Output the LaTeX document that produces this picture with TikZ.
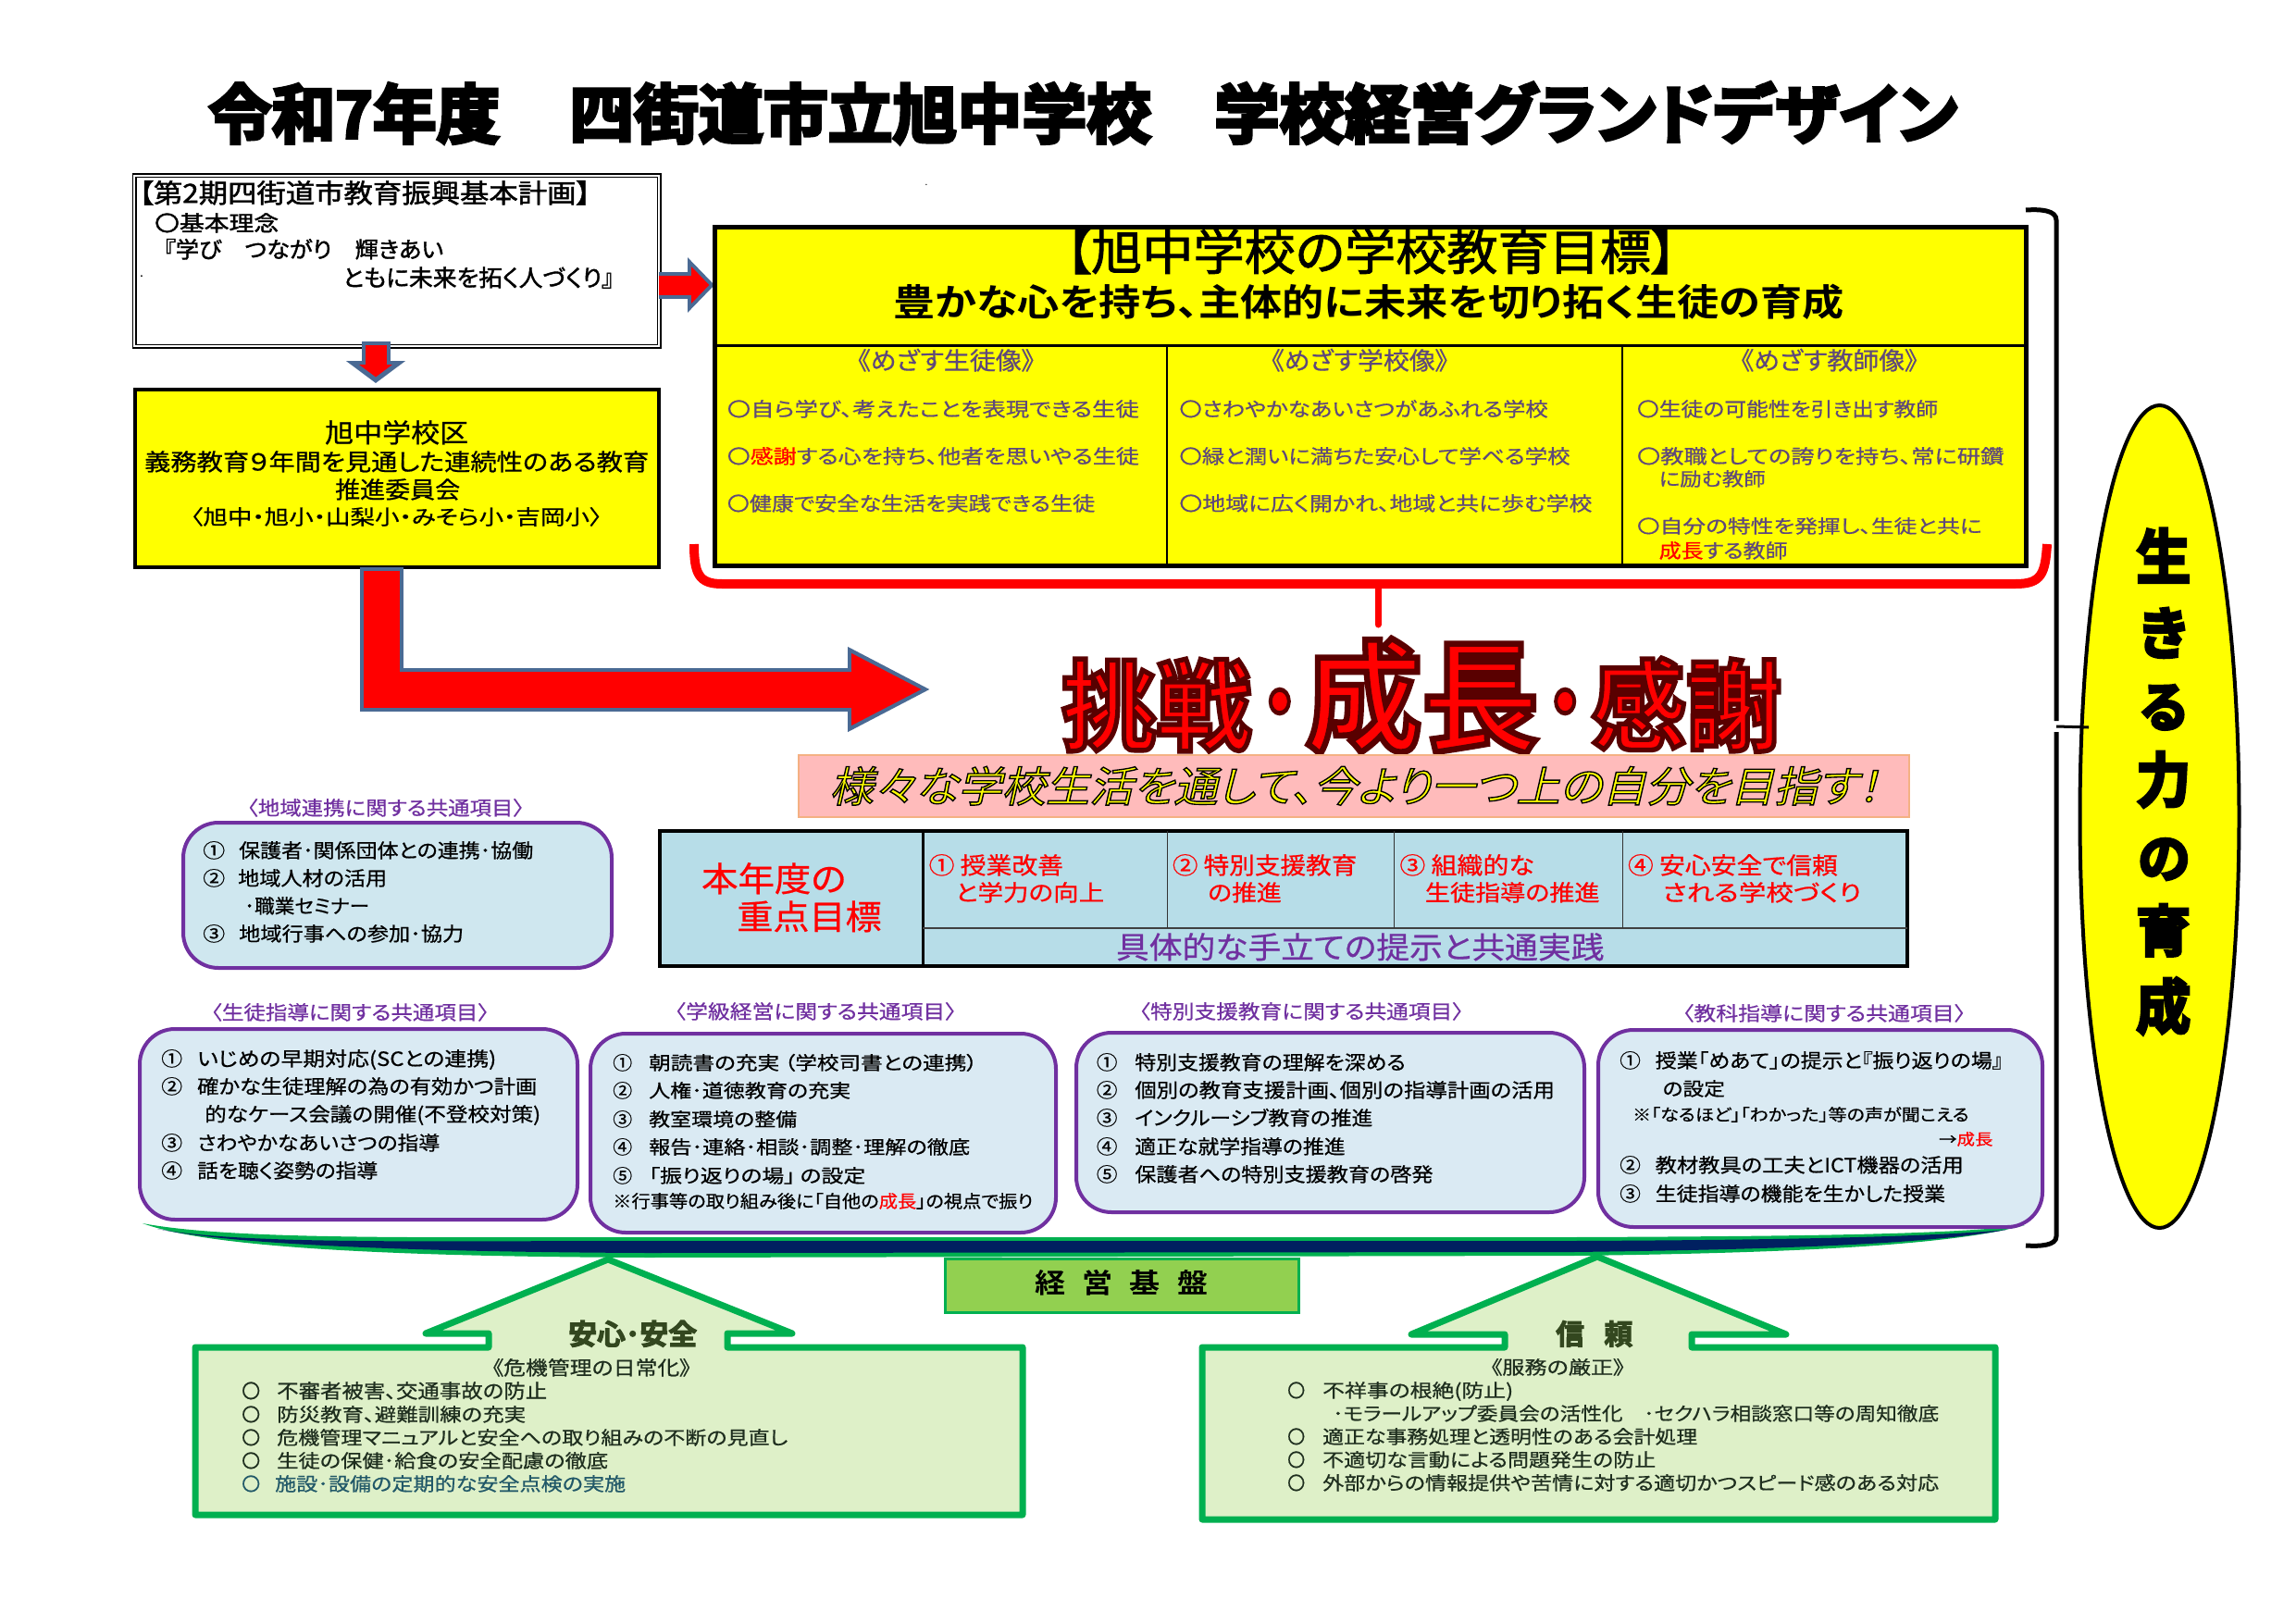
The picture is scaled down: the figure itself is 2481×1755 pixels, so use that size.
\documentclass[tikz,border=0pt]{standalone}
\usepackage{fontspec}
\usepackage{graphicx}
\usetikzlibrary{arrows.meta,shapes.geometric}
\setmainfont[RawFeature=+palt]{Noto Sans CJK JP}
\newfontfamily\rg[FakeBold=0.6,RawFeature=+palt]{Noto Sans CJK JP}
\newfontfamily\md[FakeBold=1.5,RawFeature=+palt]{Noto Sans CJK JP}
\newfontfamily\hv[UprightFont=* Bold,FakeBold=5,RawFeature=+palt]{Noto Sans CJK JP}
\newfontfamily\hx[UprightFont=* Bold,FakeBold=3.5,RawFeature=+palt]{Noto Sans CJK JP}
\newfontfamily\bd[UprightFont=* Bold,RawFeature=+palt]{Noto Sans CJK JP}
\newfontfamily\slanted[FakeSlant=0.22,FakeBold=3,RawFeature=+palt]{Noto Sans CJK JP}
\definecolor{yel}{HTML}{FFFF00}
\definecolor{arrowblue}{HTML}{4A6A94}
\definecolor{purp}{HTML}{7030A0}
\definecolor{mutedpurp}{HTML}{5F497A}
\definecolor{tablecyan}{HTML}{B7DDE8}
\definecolor{cyanA}{HTML}{CFE7EF}
\definecolor{cyanB}{HTML}{DAEAF3}
\definecolor{grn}{HTML}{00B050}
\definecolor{leaf}{HTML}{92D050}
\definecolor{pale}{HTML}{DEF0C8}
\definecolor{navy}{HTML}{002060}
\definecolor{pinkbg}{HTML}{FFBBBB}
\definecolor{pinkedge}{HTML}{F4B183}
\definecolor{ink}{HTML}{1E2E1E}
\definecolor{teal}{HTML}{215868}
\definecolor{dgreen}{HTML}{33471F}
\newcounter{tn}
\newsavebox\txbox
\newdimen\txw
\def\curf{\rg}
\def\ox{0}\def\sxf{1}
% \tx[colour]{left}{right}{ink top}{ink bottom}{text}
\newcommand\tx[6][black]{%
  \stepcounter{tn}%
  \pgfmathsetmacro\fsz{(#5-#4)/0.95}%
  \pgfmathsetmacro\by{#5-0.1*\fsz}%
  \pgfmathsetmacro\Lx{\ox+(#2-\ox)*\sxf}%
  \pgfmathsetmacro\Rx{\ox+(#3-\ox)*\sxf}%
  \sbox\txbox{\pgfinterruptpicture\color{#1}\fontsize{\fsz pt}{\fsz pt}\selectfont\curf #6\endpgfinterruptpicture}%
  \txw=\wd\txbox
  \pgfmathsetmacro\sx{(\Rx-\Lx)/\the\txw}%
  \node[anchor=base west,inner sep=0pt] (t\thetn) at (\Lx,\by) {\scalebox{\sx}[1]{\usebox\txbox}};%
}
\newcommand\darkedge{\special{pdf:code 0.35 0 0 RG}}
\newcommand\blackedge{\special{pdf:code 0 0 0 RG}}
\newcommand\rbox[6][]{%
  \pgfmathsetmacro\rw{#5-#3}\pgfmathsetmacro\rh{#6-#4}%
  \node[inner sep=0pt,outer sep=0pt,anchor=north west,minimum width=\rw pt,minimum height=\rh pt,#1] (#2) at (#3,#4) {};%
}
\tikzset{
  goalbox/.style={draw=black,fill=yel,line width=5pt},
  planbox/.style={draw=black,double=white,double distance=2pt,line width=1.5pt,fill=white},
  purplebox/.style={draw=purp,line width=4pt,rounded corners=38pt},
  fatouter/.style={line width=#1pt,color=arrowblue,line join=miter},
  fatinner/.style={line width=#1pt,color=red,line join=miter},
  cellrule/.style={draw=black!80,line width=1pt},
  house/.style={draw=grn,fill=pale,line width=7pt,line join=round},
}
\begin{document}
\begin{tikzpicture}[x=1pt,y=-1pt]
\useasboundingbox (0,0) rectangle (2481,1755);
% ---------- title
{\def\curf{\hv}
\tx{225}{540}{90}{156}{令和7年度}
\tx{615}{1244}{90}{156}{四街道市立旭中学校}
\tx{1312}{2115}{90}{156}{学校経営グランドデザイン}
}
% ---------- brace and banner behind boxes
\coordinate (bt) at (2189,227);
\coordinate (bb) at (2189,1346);
\coordinate (bm) at (2222,785);
\coordinate (btip) at (2257,786);
\draw[line width=5pt] (bt) .. controls (2205,226) and (2222,227) .. (2222,238) -- (2222,779);
\draw[line width=5pt] (2222,791) -- (2222,1336) .. controls (2222,1346) and (2205,1347) .. (bb);
% banner
\fill[grn] (154,1322) .. controls (250,1340) and (450,1337) .. (700,1337) -- (1700,1337) .. controls (1950,1336) and (2110,1334) .. (2188,1324) .. controls (2110,1345) and (1950,1354) .. (1700,1357) -- (700,1359) .. controls (450,1358) and (230,1350) .. (154,1322) -- cycle;
\fill[navy] (170,1328) .. controls (260,1345) and (450,1341) .. (700,1341) -- (1700,1341) .. controls (1950,1340) and (2090,1336) .. (2168,1329) .. controls (2090,1343) and (1950,1350) .. (1700,1353) -- (700,1354) .. controls (450,1353) and (250,1345) .. (170,1328) -- cycle;
% ---------- boxes top-left
\rbox[planbox]{plan}{145}{190}{712}{374}
\rbox[goalbox,line width=4pt]{council}{146}{421}{712}{613}
{\def\curf{\md}
\tx{150}{638}{195}{222}{【第2期四街道市教育振興基本計画】}
\tx{167}{301}{230}{252}{〇基本理念}
\tx{177}{479}{258}{281}{『学び　つながり　輝きあい}
\tx{370}{663}{288}{312}{ともに未来を拓く人づくり』}
}
\node[inner sep=0pt,font=\fontsize{14}{14}\selectfont] (dotA) at (153,299) {.};
\node[inner sep=0pt,font=\fontsize{10}{10}\selectfont] (dotB) at (1001,200) {.};
\tx{351}{506}{454}{481}{旭中学校区}
\tx{156}{701}{487}{511}{義務教育９年間を見通した連続性のある教育}
\tx{362}{497}{517}{541}{推進委員会}
\tx{206}{650}{548}{569}{〈旭中・旭小・山梨小・みそら小・吉岡小〉}
% ---------- block arrows
\coordinate (a1s) at (712,308);
\coordinate (a1e) at (772,308);
\draw[fatouter=29,-{Triangle[length=29pt,width=58pt]}] (a1s) -- (a1e);
\draw[fatinner=21,shorten >=5.6pt,-{Triangle[length=19.4pt,width=38.8pt]}] (a1s) -- (a1e);
\coordinate (a2s) at (406,369);
\coordinate (a2e) at (406,414);
\draw[fatouter=31,-{Triangle[length=24pt,width=63pt]}] (a2s) -- (a2e);
\draw[fatinner=23,shorten >=6.6pt,-{Triangle[length=13.4pt,width=35pt]}] (406,373) -- (a2e);
\coordinate (a3s) at (412,613);
\coordinate (a3e) at (1006.5,745);
\draw[fatouter=47,-{Triangle[length=90.5pt,width=85pt]}] (a3s) |- (a3e);
\draw[fatinner=39,shorten >=9.3pt,-{Triangle[length=77.2pt,width=72pt]}] (412,617) |- (a3e);
% ---------- goal table
\rbox[goalbox]{goal}{772}{245}{2189}{611}
\draw[line width=3pt] (772,373) -- (2189,373);
\draw[line width=2.5pt] (1261,373) -- (1261,611) (1753,373) -- (1753,611);
{\def\ox{740}\def\sxf{0.9911}
{\def\curf{\md}
\tx{1155}{1821}{247}{297}{【旭中学校の学校教育目標】}
}
{\def\curf{\bd}
\tx{967}{2004}{307}{345}{豊かな心を持ち、主体的に未来を切り拓く生徒の育成}
}
\tx[mutedpurp]{928}{1121}{377}{402}{《めざす生徒像》}
\tx[mutedpurp]{1379}{1572}{377}{402}{《めざす学校像》}
\tx[mutedpurp]{1891}{2084}{377}{402}{《めざす教師像》}
\tx[mutedpurp]{786}{1235}{432}{452}{〇自ら学び、考えたことを表現できる生徒}
\tx[mutedpurp]{786}{1235}{483}{503}{〇\textcolor{red}{感謝}する心を持ち、他者を思いやる生徒}
\tx[mutedpurp]{786}{1187}{534}{554}{〇健康で安全な生活を実践できる生徒}
\tx[mutedpurp]{1279}{1681}{432}{452}{〇さわやかなあいさつがあふれる学校}
\tx[mutedpurp]{1279}{1705}{483}{503}{〇緑と潤いに満ちた安心して学べる学校}
\tx[mutedpurp]{1279}{1729}{534}{554}{〇地域に広く開かれ、地域と共に歩む学校}
\tx[mutedpurp]{1778}{2106}{432}{452}{〇生徒の可能性を引き出す教師}
\tx[mutedpurp]{1778}{2178}{483}{503}{〇教職としての誇りを持ち、常に研鑽}
\tx[mutedpurp]{1802}{1918}{508}{527}{に励む教師}
\tx[mutedpurp]{1778}{2154}{559}{578}{〇自分の特性を発揮し、生徒と共に}
\tx[mutedpurp]{1802}{1942}{585}{605}{\textcolor{red}{成長}する教師}
}
% red brace
\coordinate (rb1) at (750,588);
\coordinate (rb2) at (2212,588);
\coordinate (rbm) at (1489,631);
\coordinate (rbe) at (1489,675);
\draw[red,line width=10pt] (rb1) .. controls (750,620) and (755,631) .. (780,631) -- (2178,631) .. controls (2206,631) and (2210,620) .. (rb2);
\draw[red,line width=7pt,line cap=round] (rbm) -- (rbe);
% ---------- motto
{\def\ox{700}\def\sxf{0.98214}
{\def\curf{\hv}
\tx[red]{1155}{1364}{712}{813}{\darkedge 挑戦}
\tx[red]{1423}{1680}{691}{815}{\darkedge 成長}
\tx[red]{1738}{1947}{712}{813}{\darkedge 感謝}
\tx[red]{1375}{1415}{711}{806}{\darkedge ・}
\tx[red]{1689}{1729}{711}{806}{\darkedge ・}
}
\rbox[draw=pinkedge,fill=pinkbg,line width=2pt]{pink}{863}{816}{2063}{883}
{\def\curf{\slanted}
\tx[yel]{900}{2055}{828}{871}{\blackedge 様々な学校生活を通して、今より一つ上の自分を目指す！}
}
% ---------- priority table
\rbox[draw=black,fill=tablecyan,line width=4pt]{prio}{713}{898}{2061}{1044}
\draw[line width=3pt] (997,898) -- (997,1044);
\draw[line width=1.5pt,black!75] (997,1003) -- (2061,1003);
\draw[cellrule] (1261,898) -- (1261,1003) (1506,898) -- (1506,1003) (1753,898) -- (1753,1003);
\tx[red]{759}{918}{932}{967}{本年度の}
\tx[red]{798}{957}{973}{1008}{重点目標}
\tx[red]{1009}{1157}{923}{947}{① 授業改善}
\tx[red]{1038}{1202}{953}{976}{と学力の向上}
\tx[red]{1277}{1480}{923}{947}{② 特別支援教育}
\tx[red]{1316}{1397}{953}{976}{の推進}
\tx[red]{1527}{1675}{923}{947}{③ 組織的な}
\tx[red]{1555}{1747}{953}{976}{生徒指導の推進}
\tx[red]{1778}{2009}{923}{947}{④ 安心安全で信頼}
\tx[red]{1816}{2035}{953}{976}{される学校づくり}
\tx[purp]{1215}{1752}{1008}{1039}{具体的な手立ての提示と共通実践}
}
% ---------- purple boxes
\tx[purp]{267}{566}{863}{883}{〈地域連携に関する共通項目〉}
\rbox[purplebox,fill=cyanA]{area}{198}{889}{661}{1046}
\tx{219}{243}{909}{929}{①}
\tx{258}{576}{909}{929}{保護者･関係団体との連携･協働}
\tx{219}{243}{939}{959}{②}
\tx{257}{418}{939}{959}{地域人材の活用}
\tx{264}{399}{969}{989}{･職業セミナー}
\tx{219}{243}{999}{1019}{③}
\tx{258}{501}{999}{1019}{地域行事への参加･協力}
\tx[purp]{228}{528}{1084}{1104}{〈生徒指導に関する共通項目〉}
\rbox[purplebox,fill=cyanB]{guid}{151}{1112}{624}{1318}
\tx{174}{197}{1134}{1154}{①}
\tx{213}{536}{1134}{1154}{いじめの早期対応(SCとの連携)}
\tx{174}{197}{1164}{1184}{②}
\tx{213}{580}{1164}{1184}{確かな生徒理解の為の有効かつ計画}
\tx{221}{584}{1194}{1214}{的なケース会議の開催(不登校対策)}
\tx{174}{197}{1225}{1245}{③}
\tx{213}{475}{1225}{1245}{さわやかなあいさつの指導}
\tx{174}{197}{1255}{1275}{④}
\tx{213}{408}{1255}{1275}{話を聴く姿勢の指導}
\tx[purp]{729}{1033}{1083}{1103}{〈学級経営に関する共通項目〉}
\rbox[purplebox,fill=cyanB]{cls}{638}{1117}{1141}{1332}
\tx{662}{683}{1139}{1158}{①}
\tx{701}{1056}{1139}{1158}{朝読書の充実 （学校司書との連携）}
\tx{662}{683}{1169}{1188}{②}
\tx{701}{919}{1169}{1188}{人権･道徳教育の充実}
\tx{662}{683}{1200}{1219}{③}
\tx{701}{861}{1200}{1219}{教室環境の整備}
\tx{662}{683}{1230}{1249}{④}
\tx{701}{1048}{1230}{1249}{報告･連絡･相談･調整･理解の徹底}
\tx{662}{683}{1261}{1280}{⑤}
\tx{701}{935}{1261}{1280}{「振り返りの場」 の設定}
\tx{662}{1116}{1289}{1307}{※行事等の取り組み後に「自他の\textcolor{red}{成長}」の視点で振り}
\rbox[purplebox,fill=cyanB]{spec}{1163}{1116}{1712}{1310}
\rbox[purplebox,fill=cyanB]{subj}{1727}{1113}{2207}{1326}
{\def\ox{1150}\def\sxf{0.98842}
\tx[purp]{1232}{1586}{1083}{1103}{〈特別支援教育に関する共通項目〉}
\tx{1185}{1208}{1138}{1158}{①}
\tx{1227}{1523}{1138}{1158}{特別支援教育の理解を深める}
\tx{1185}{1208}{1168}{1188}{②}
\tx{1227}{1686}{1168}{1188}{個別の教育支援計画、個別の指導計画の活用}
\tx{1185}{1208}{1198}{1218}{③}
\tx{1227}{1487}{1198}{1218}{インクルーシブ教育の推進}
\tx{1185}{1208}{1229}{1249}{④}
\tx{1227}{1457}{1229}{1249}{適正な就学指導の推進}
\tx{1185}{1208}{1259}{1279}{⑤}
\tx{1227}{1553}{1259}{1279}{保護者への特別支援教育の啓発}
\tx[purp]{1826}{2135}{1085}{1105}{〈教科指導に関する共通項目〉}
\tx{1757}{1780}{1136}{1156}{①}
\tx{1796}{2176}{1136}{1156}{授業「めあて」の提示と『振り返りの場』}
\tx{1804}{1872}{1167}{1186}{の設定}
\tx{1771}{2139}{1196}{1213}{※「なるほど」「わかった」等の声が聞こえる}
\tx{2106}{2165}{1223}{1239}{→\textcolor{red}{成長}}
\tx{1757}{1780}{1249}{1269}{②}
\tx{1796}{2133}{1249}{1269}{教材教具の工夫とICT機器の活用}
\tx{1757}{1780}{1280}{1300}{③}
\tx{1796}{2113}{1280}{1300}{生徒指導の機能を生かした授業}
}
% ---------- base
\rbox[draw=grn,fill=leaf,line width=3pt]{base}{1021}{1360}{1403}{1418}
{\def\curf{\bd}
\tx{1118}{1305}{1372}{1400}{経\hspace{0.55em}営\hspace{0.55em}基\hspace{0.55em}盤}
}
\draw[house] (657,1361) -- (856,1441) -- (786,1441) -- (786,1456) -- (1105,1456) -- (1105,1637) -- (211,1637) -- (211,1456) -- (528,1456) -- (528,1441) -- (460,1441) -- cycle;
\draw[house] (1726,1358) -- (1930,1442) -- (1828,1442) -- (1828,1456) -- (2156,1456) -- (2156,1642) -- (1299,1642) -- (1299,1456) -- (1626,1456) -- (1626,1442) -- (1525,1442) -- cycle;
{\def\curf{\hx}
\tx[dgreen]{614}{753}{1427}{1456}{安心･安全}
\tx[dgreen]{1681}{1764}{1427}{1456}{信\hspace{0.7em}頼}
}
\tx[ink]{532}{746}{1468}{1488}{《危機管理の日常化》}
\tx[ink]{261}{281}{1493}{1513}{〇}
\tx[ink]{299}{591}{1493}{1513}{不審者被害、交通事故の防止}
\tx[ink]{261}{281}{1519}{1538}{〇}
\tx[ink]{299}{568}{1519}{1538}{防災教育、避難訓練の充実}
\tx[ink]{261}{281}{1544}{1563}{〇}
\tx[ink]{299}{851}{1544}{1563}{危機管理マニュアルと安全への取り組みの不断の見直し}
\tx[ink]{261}{281}{1569}{1588}{〇}
\tx[ink]{299}{657}{1569}{1588}{生徒の保健･給食の安全配慮の徹底}
\tx[teal]{261}{281}{1594}{1613}{〇}
\tx[teal]{297}{676}{1594}{1613}{施設･設備の定期的な安全点検の実施}
\tx[ink]{1611}{1755}{1468}{1487}{《服務の厳正》}
\tx[ink]{1391}{1410}{1493}{1512}{〇}
\tx[ink]{1429}{1635}{1493}{1512}{不祥事の根絶(防止)}
\tx[ink]{1440}{2095}{1518}{1537}{･モラールアップ委員会の活性化　･セクハラ相談窓口等の周知徹底}
\tx[ink]{1391}{1410}{1543}{1562}{〇}
\tx[ink]{1429}{1834}{1543}{1562}{適正な事務処理と透明性のある会計処理}
\tx[ink]{1391}{1410}{1568}{1587}{〇}
\tx[ink]{1429}{1789}{1568}{1587}{不適切な言動による問題発生の防止}
\tx[ink]{1391}{1410}{1593}{1612}{〇}
\tx[ink]{1429}{2095}{1593}{1612}{外部からの情報提供や苦情に対する適切かつスピード感のある対応}
% ---------- ellipse
\node[ellipse,draw=black,fill=yel,line width=4pt,inner sep=0pt,minimum width=172pt,minimum height=889pt] (ikiru) at (2333.5,882.5) {};
\draw[line width=3pt] (bm) -- (btip);
{\def\curf{\hv}
\tx{2308}{2367}{571}{632}{生}
\tx{2312}{2363}{655}{713}{き}
\tx{2312}{2363}{736}{791}{る}
\tx{2308}{2367}{812}{873}{力}
\tx{2310}{2366}{900}{954}{の}
\tx{2308}{2367}{977}{1034}{育}
\tx{2308}{2367}{1057}{1118}{成}
}
\end{tikzpicture}
\end{document}
